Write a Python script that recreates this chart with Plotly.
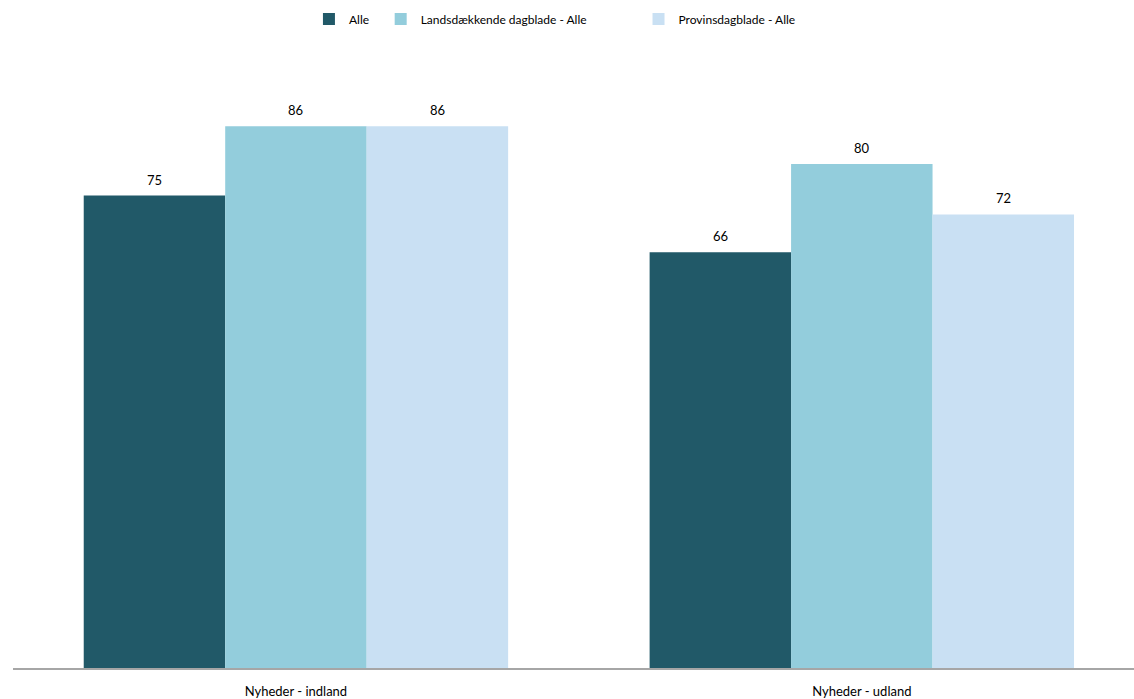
import plotly.graph_objects as go

categories = ["Nyheder - indland", "Nyheder - udland"]
series_names = ["Alle", "Landsdækkende dagblade - Alle", "Provinsdagblade - Alle"]
alle = [75, 66]
landsdaekkende = [86, 80]
provins = [86, 72]
colors = ["#215968", "#93CDDC", "#C9E0F3"]

series = [alle, landsdaekkende, provins]
legend_ids = ["legend", "legend2", "legend3"]
legend_x = [0.264, 0.328, 0.558]
bar_offsets = [-0.25, 0.0, 0.25]

fig = go.Figure()
for name, vals, col, lid in zip(series_names, series, colors, legend_ids):
    fig.add_trace(go.Bar(
        name=name, x=categories, y=vals,
        marker=dict(color=col, line=dict(width=0)),
        legend=lid,
    ))

# value labels above each bar
for vals, off in zip(series, bar_offsets):
    for i, v in enumerate(vals):
        fig.add_annotation(
            x=i + off, y=v, text=str(v), showarrow=False,
            yanchor="bottom", yshift=6,
            font=dict(size=13, color="#000000"),
        )

legend_style = dict(orientation="h", xanchor="left", y=1.03, yanchor="middle",
                    font=dict(size=12), itemwidth=30, bgcolor="rgba(0,0,0,0)")
layout_legends = {lid: dict(x=lx, **legend_style) for lid, lx in zip(legend_ids, legend_x)}

fig.update_layout(
    width=1134, height=699,
    barmode="group", bargap=0.25, bargroupgap=0,
    plot_bgcolor="white", paper_bgcolor="white",
    font=dict(family="Lato, Open Sans, sans-serif", size=12, color="#000000"),
    margin=dict(l=13, r=0, t=38, b=31),
    showlegend=True,
    xaxis=dict(range=[-0.5, 1.481], showline=True, linecolor="#A6A6A6", linewidth=1.5,
               ticks="", ticklabelstandoff=11, tickfont=dict(size=13)),
    yaxis=dict(range=[0, 100], visible=False, showgrid=False),
    **layout_legends,
)

fig.write_html("out.html")
